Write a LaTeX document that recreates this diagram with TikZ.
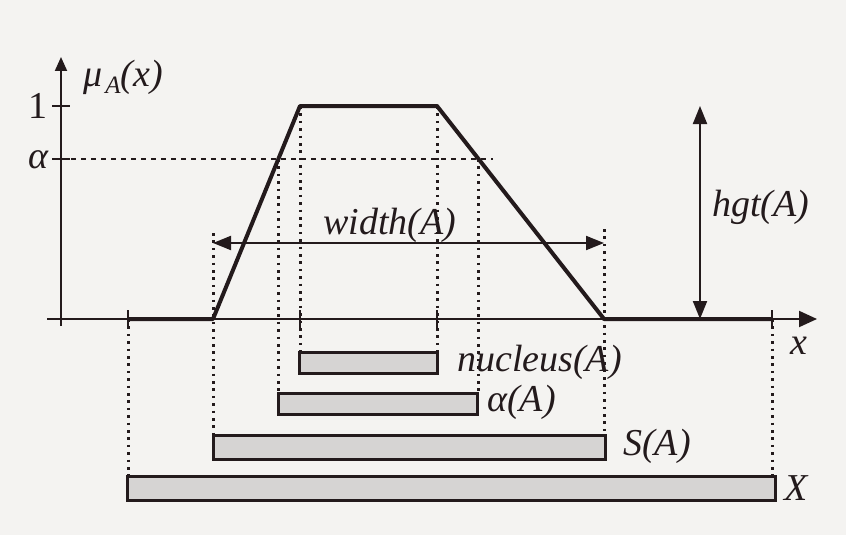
\documentclass[tikz,border=0pt]{standalone}
\usepackage{fontspec}
\setmainfont{Liberation Serif}[ItalicFont={Liberation Serif Italic}]
\usetikzlibrary{arrows.meta}
\definecolor{bg}{HTML}{F4F3F1}
\definecolor{ink}{HTML}{231A1C}
\definecolor{barfill}{HTML}{D6D4D3}
\begin{document}
\begin{tikzpicture}[x=1pt,y=-1pt,
  lbl/.style={inner sep=0pt, text=ink, font=\fontsize{38}{40}\selectfont\itshape},
  axisline/.style={draw=ink, line width=2pt},
  mf/.style={draw=ink, line width=4pt, line join=round},
  dotline/.style={draw=ink, line width=3pt, dash pattern=on 2.6pt off 4.8pt},
  alphaline/.style={draw=ink, line width=2.2pt, dash pattern=on 5pt off 5pt},
  tickmark/.style={draw=ink, line width=2pt},
  bar/.style={draw=ink, fill=barfill, line width=2.5pt, inner sep=0pt, anchor=north west},
  dimarrow/.style={draw=ink, line width=2pt, {Triangle[length=18pt,width=14pt]}-{Triangle[length=18pt,width=14pt]}},
]
\fill[bg] (0,0) rectangle (846,535);
\useasboundingbox (0,0) rectangle (846,535);

% key points
\coordinate (ybot) at (61,326);
\coordinate (ytop) at (61,57);
\coordinate (xl) at (47,319);
\coordinate (xr) at (817,319);
\coordinate (p0) at (128,319);
\coordinate (p1) at (213,319);
\coordinate (p2) at (300,106);
\coordinate (p3) at (437,106);
\coordinate (p4) at (604,319);
\coordinate (p5) at (772,319);
\coordinate (al) at (278,159);
\coordinate (ar) at (478,159);
\coordinate (aend) at (493,159);
\coordinate (ay) at (61,159);
\coordinate (wl) at (213,233);
\coordinate (wr) at (604,229);
\coordinate (wal) at (213,243);
\coordinate (war) at (604,243);
\coordinate (ht) at (700,106);
\coordinate (hb) at (700,319);

% bars
\node[bar, minimum width=138pt, minimum height=21pt] (nuc) at (298,351) {};
\node[bar, minimum width=199pt, minimum height=21pt] (abar) at (277,392) {};
\node[bar, minimum width=392pt, minimum height=24pt] (sbar) at (212,434) {};
\node[bar, minimum width=648pt, minimum height=24pt] (xbar) at (126,475) {};

% dotted projections
\draw[dotline] (p0) -- (p0 |- xbar.north);
\draw[dotline] (p5) -- (p5 |- xbar.north);
\draw[dotline] (wl) -- (wl |- sbar.north);
\draw[dotline] (wr) -- (wr |- sbar.north);
\draw[dotline] (al) -- (al |- abar.north);
\draw[dotline] (ar) -- (ar |- abar.north);
\draw[dotline] (p2) -- (p2 |- nuc.north);
\draw[dotline] (p3) -- (p3 |- nuc.north);

% alpha level
\draw[alphaline] (ay) -- (aend);

% axes
\draw[axisline, -{Triangle[length=14pt,width=12pt]}] (ybot) -- (ytop);
\draw[axisline, -{Triangle[length=18pt,width=16pt]}] (xl) -- (xr);

% ticks
\draw[tickmark] (52,106) -- (70,106);
\draw[tickmark] (52,159) -- (70,159);
\foreach \t in {p0,p2,p3,p5} {
  \draw[tickmark] ([yshift=-9pt]\t |- xl) -- ([yshift=9pt]\t |- xl);
}

% membership function
\draw[mf] (p0) -- (p1) -- (p2) -- (p3) -- (p4) -- (p5);

% dimension arrows
\draw[dimarrow] (wal) -- (war);
\draw[dimarrow] (ht) -- (hb);

% labels
\node[lbl, anchor=west] (mu) at (83,77) {μ\hspace{3pt}\raisebox{-0.4ex}{\fontsize{25}{25}\selectfont A}(x)};
\node[lbl, font=\fontsize{38}{40}\selectfont] (one) at (38,106) {1};
\node[lbl, anchor=east] (alph) at (49,160) {α};
\node[lbl] (width) at (390,225) {width(A)};
\node[lbl, anchor=west] (hgt) at (712,207) {hgt(A)};
\node[lbl, anchor=west] (nucl) at (457,362) {nucleus(A)};
\node[lbl, anchor=west] (acut) at (487,402) {α(A)};
\node[lbl, anchor=west] (supp) at (623,446) {S(A)};
\node[lbl, anchor=west] (univ) at (784,488) {X};
\node[lbl, anchor=west] (xlab) at (790,346) {x};
\end{tikzpicture}
\end{document}
